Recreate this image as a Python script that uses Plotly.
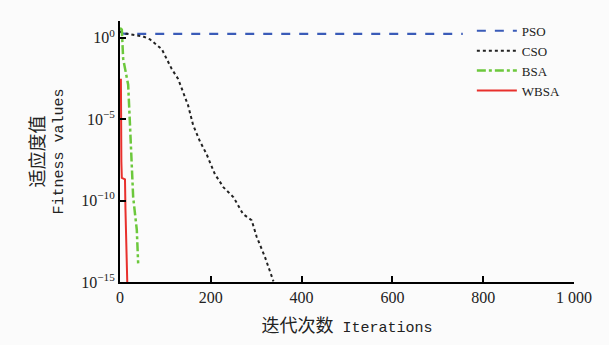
import plotly.graph_objects as go

# ---- data ----
pso_x = [0, 5, 12, 755]
pso_y = [2.5, 1.9, 1.75, 1.75]

cso_x = [0, 5, 51, 66, 92, 114, 128, 150, 161, 176, 191, 209, 228, 250, 271, 290, 301, 319, 338]
cso_y = [2.5, 2.0, 1.2, 0.8, 0.2, 1.2e-2, 3e-3, 7e-5, 4.4e-6, 4.4e-7, 6.8e-8, 4.2e-9,
         6.5e-10, 1.6e-10, 1.5e-11, 6.2e-12, 6e-13, 3.6e-14, 1.1e-15]

bsa_x = [0, 4, 7, 18, 22, 26, 29, 33, 37, 40]
bsa_y = [4.0, 3.2, 0.05, 1.3e-3, 4.4e-6, 1e-8, 1.6e-10, 1.6e-11, 1.6e-12, 1.4e-14]

wbsa_x = [2, 2, 3, 4, 11, 12, 15, 16]
wbsa_y = [3e-3, 2e-6, 2.5e-8, 2.5e-9, 2e-9, 3e-11, 4e-14, 1e-15]

x_ticks = [0, 200, 400, 600, 800, 1000]
x_tick_text = ["0", "200", "400", "600", "800", "1 000"]
y_ticks = [1e0, 1e-5, 1e-10, 1e-15]
y_tick_text = ["10<sup>0</sup>", "10<sup>\u22125</sup>", "10<sup>\u221210</sup>", "10<sup>\u221215</sup>"]

serif = "Liberation Serif, Times New Roman, serif"
mono = "Liberation Mono, Courier New, monospace"

x_title = ('<span style="font-family:Noto Sans CJK SC;font-size:18px">迭代次数</span>'
           ' Iterations')
y_title = ('<span style="font-family:Noto Sans CJK SC;font-size:18px">适应度值</span>'
           '<br>Fitness values')

fig = go.Figure()
fig.add_trace(go.Scatter(x=pso_x, y=pso_y, mode="lines", name="PSO",
                         line=dict(color="#3a5bb8", width=2.2, dash="dash")))
fig.add_trace(go.Scatter(x=cso_x, y=cso_y, mode="lines", name="CSO",
                         line=dict(color="#222222", width=2, dash="dot")))
fig.add_trace(go.Scatter(x=bsa_x, y=bsa_y, mode="lines", name="BSA",
                         line=dict(color="#6cc83c", width=2.5, dash="dashdot")))
fig.add_trace(go.Scatter(x=wbsa_x, y=wbsa_y, mode="lines", name="WBSA",
                         line=dict(color="#e8302c", width=2)))

fig.update_layout(
    width=609, height=345,
    margin=dict(l=120, r=35, t=21, b=59),
    paper_bgcolor="#fbfbfb", plot_bgcolor="#fbfbfb",
    font=dict(family=serif, size=14, color="#222222"),
    showlegend=True,
    legend=dict(x=0.775, y=1.02, xanchor="left", yanchor="top",
                bgcolor="rgba(0,0,0,0)", font=dict(family=serif, size=13),
                tracegroupgap=0, itemwidth=40),
    xaxis=dict(range=[0, 1000], tickvals=x_ticks, ticktext=x_tick_text,
               showgrid=False, zeroline=False, showline=True, linecolor="black",
               linewidth=2, ticks="inside", ticklen=6, tickwidth=2, tickcolor="black",
               tickfont=dict(family=serif, size=16),
               title=dict(text=x_title, font=dict(family=mono, size=15), standoff=16)),
    yaxis=dict(type="log", range=[-15, 1.03], tickvals=y_ticks, ticktext=y_tick_text,
               showgrid=False, zeroline=False, showline=True, linecolor="black",
               linewidth=2, ticks="inside", ticklen=6, tickwidth=2, tickcolor="black",
               tickfont=dict(family=serif, size=16),
               title=dict(text=y_title, font=dict(family=mono, size=15), standoff=14)),
)

fig.write_html("out.html")
